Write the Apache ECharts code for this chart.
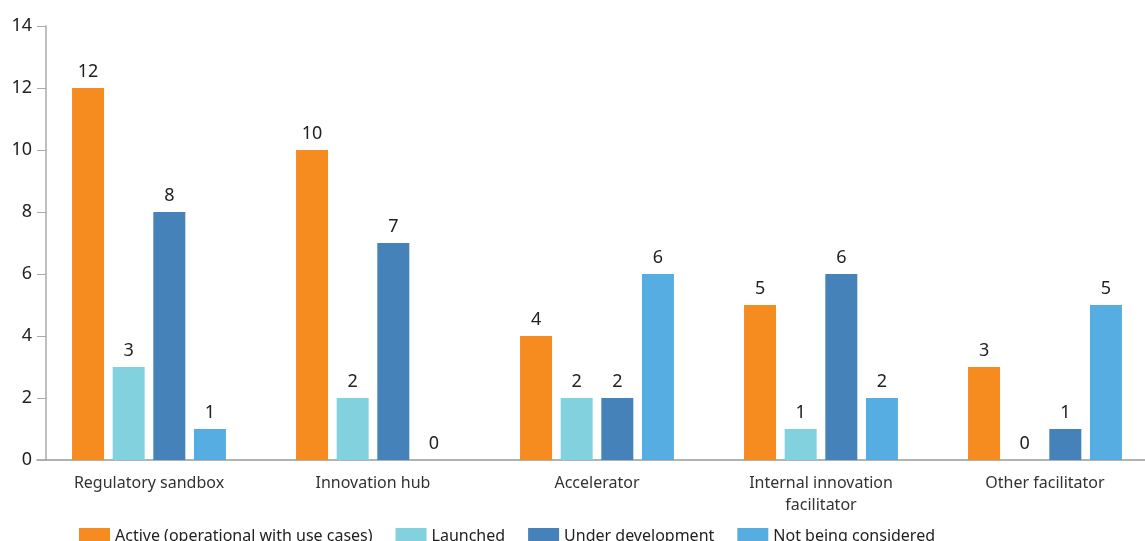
<!DOCTYPE html>
<html>
<head>
<meta charset="utf-8">
<script src="https://cdn.jsdelivr.net/npm/echarts@6/dist/echarts.min.js"></script>
<style>
  html, body { margin: 0; padding: 0; background: #fff; overflow: hidden; }
  #chart { width: 1160px; height: 541px; }
</style>
</head>
<body>
<div id="chart"></div>
<script>
// categories and series
const categories = ['Regulatory sandbox', 'Innovation hub', 'Accelerator', 'Internal innovation\nfacilitator', 'Other facilitator']
const seriesNames = ['Active (operational with use cases)', 'Launched', 'Under development', 'Not being considered']
const active = [12, 10, 4, 5, 3]
const launched = [3, 2, 2, 1, 0]
const underDevelopment = [8, 7, 2, 6, 1]
const notConsidered = [1, 0, 6, 2, 5]
const yTicks = [0, 2, 4, 6, 8, 10, 12, 14]

const colors = ['#F68B1F', '#82D1DF', '#4582B9', '#56ADE1']
const FONT = 'Noto Sans'

const chart = echarts.init(document.getElementById('chart'))

const makeSeries = (name, data, color) => ({
  name,
  type: 'bar',
  data,
  barWidth: 32,
  barGap: '27%',
  itemStyle: { color },
  label: {
    show: true,
    position: 'top',
    distance: 7,
    color: '#222',
    fontSize: 18,
    fontFamily: FONT
  }
})

const option = {
  animation: false,
  textStyle: { fontFamily: FONT },
  legend: {
    left: 74,
    top: 523,
    itemWidth: 31,
    itemHeight: 17,
    itemGap: 23,
    icon: 'rect',
    textStyle: { color: '#222', fontSize: 16, fontFamily: FONT },
    data: seriesNames
  },
  grid: { left: 37, right: 3, top: 26, bottom: 81 },
  xAxis: {
    type: 'category',
    data: categories,
    axisLine: { lineStyle: { color: '#999', width: 1.5 } },
    axisTick: { show: false },
    axisLabel: { color: '#333', fontSize: 16, fontFamily: FONT, margin: 12, lineHeight: 22 }
  },
  yAxis: {
    type: 'value',
    min: 0,
    max: yTicks[yTicks.length - 1],
    interval: 2,
    offset: -9,
    axisLine: { show: true, lineStyle: { color: '#aaa', width: 1.5 } },
    axisTick: { show: true, length: 9, lineStyle: { color: '#aaa' } },
    splitLine: { show: false },
    axisLabel: { color: '#222', fontSize: 18, fontFamily: FONT, margin: 14 }
  },
  series: [
    makeSeries(seriesNames[0], active, colors[0]),
    makeSeries(seriesNames[1], launched, colors[1]),
    makeSeries(seriesNames[2], underDevelopment, colors[2]),
    makeSeries(seriesNames[3], notConsidered, colors[3])
  ]
}

chart.setOption(option)
</script>
</body>
</html>
